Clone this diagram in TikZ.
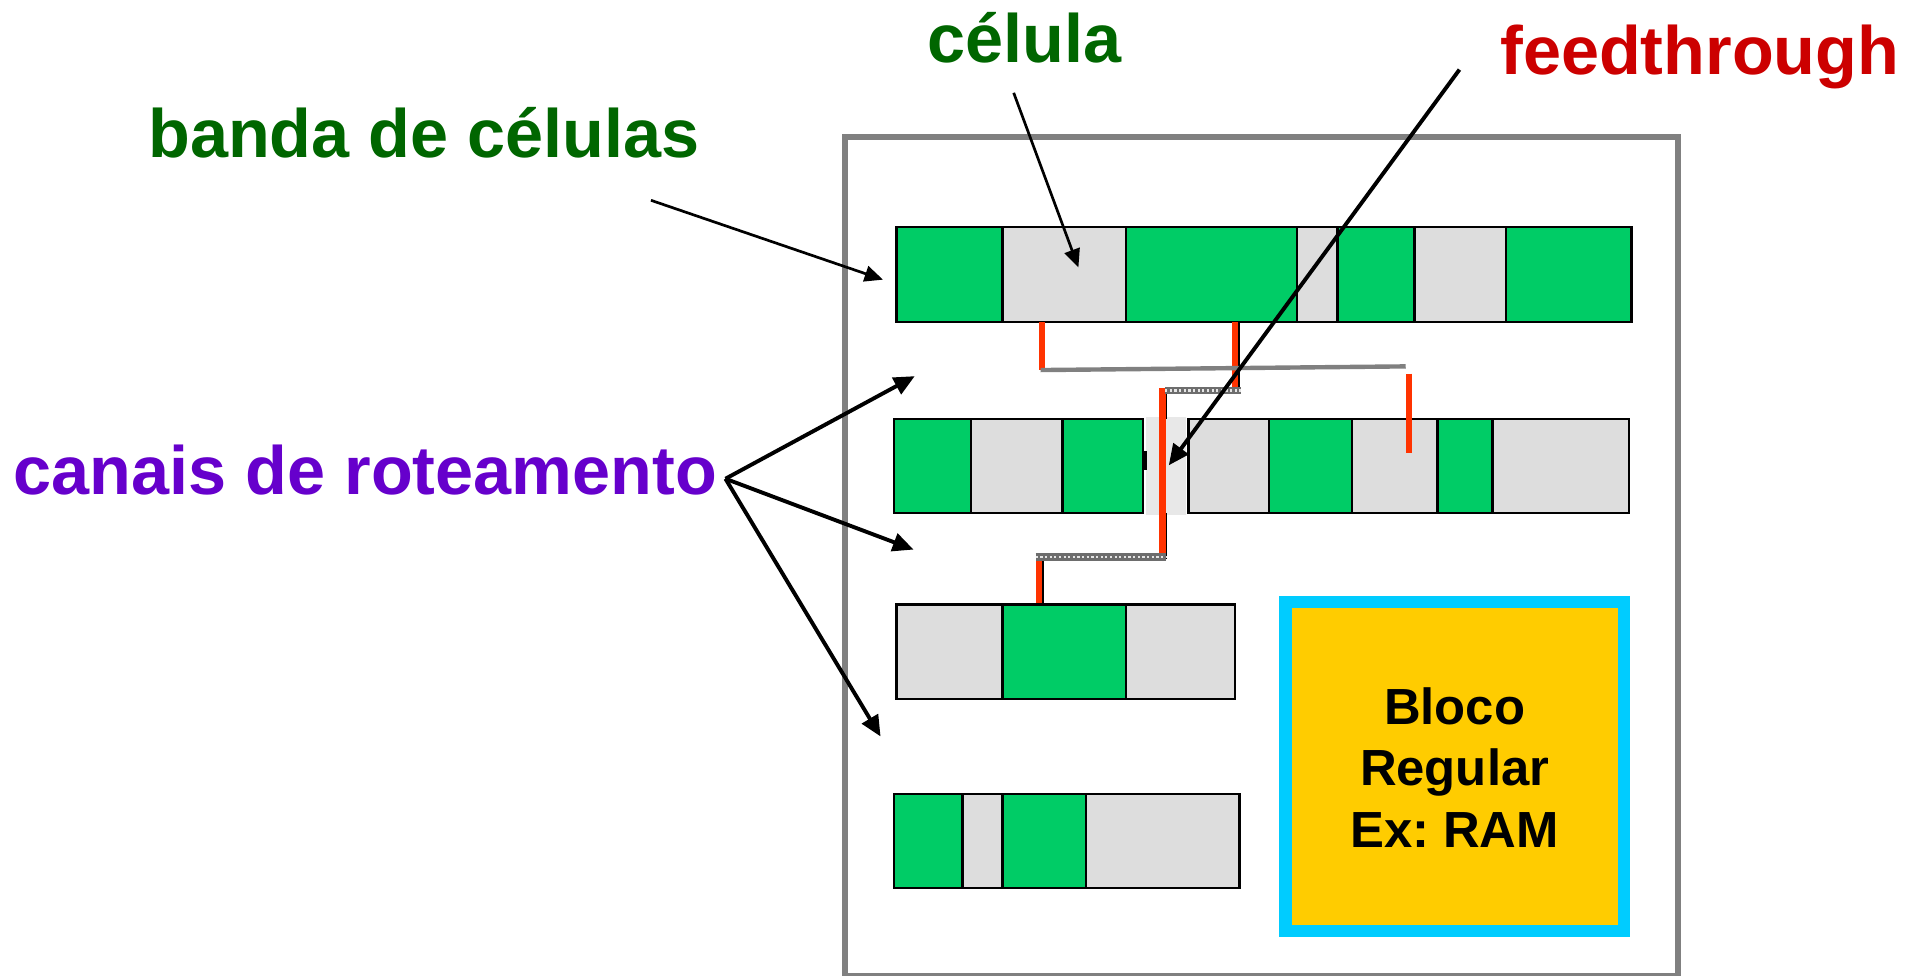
\documentclass[tikz,border=0pt]{standalone}
\usepackage{fontspec}
\setmainfont{Liberation Sans}
\usetikzlibrary{arrows.meta,patterns}
\definecolor{cellgreen}{HTML}{00CC66}
\definecolor{cellgrey}{HTML}{DDDDDD}
\definecolor{gapgrey}{HTML}{E8E8E8}
\definecolor{wirered}{HTML}{FF3300}
\definecolor{framegrey}{HTML}{808080}
\definecolor{txtgreen}{HTML}{006600}
\definecolor{txtred}{HTML}{CC0000}
\definecolor{txtpurple}{HTML}{6600CC}
\definecolor{ramcyan}{HTML}{00CCFF}
\definecolor{ramyellow}{HTML}{FFCC00}
\tikzset{
  cellbox/.style={draw=black,line width=1pt,inner sep=0pt,outer sep=0pt},
  gc/.style={cellbox,fill=cellgreen},
  gr/.style={cellbox,fill=cellgrey},
  lbl/.style={font=\fontsize{28}{30}\selectfont\bfseries,anchor=base west,inner sep=0pt},
  ramlbl/.style={font=\fontsize{20.8}{25}\selectfont\bfseries,inner sep=0pt,anchor=base},
  thinarrow/.style={-{Triangle[length=7.5pt,width=6.5pt]},line width=1.1pt,black},
  thickarrow/.style={-{Triangle[length=8.5pt,width=7.5pt]},line width=1.6pt,black},
  wire/.style={line width=2.4pt,wirered},
  widewire/.style={line width=2.7pt,wirered},
  blk/.style={line width=1.2pt,black},
  metal/.style={line width=1.8pt,framegrey},
  hatch/.style={line width=3pt,framegrey!85!black},
  hatchdots/.style={line width=1.1pt,white!80!framegrey,dash pattern=on 0.9pt off 1pt}
}
\newcommand{\cellat}[6]{% name style x1 x2 y1 y2
  \pgfmathsetmacro{\cx}{(#3+#4)/2}\pgfmathsetmacro{\cy}{(#5+#6)/2}
  \pgfmathsetmacro{\cw}{(#4-#3)*0.5}\pgfmathsetmacro{\ch}{(#6-#5)*0.5}
  \node[#2,minimum width=\cw pt,minimum height=\ch pt] (#1) at (\cx,\cy) {};}
\begin{document}
\begin{tikzpicture}[x=0.5pt,y=-0.5pt]
\useasboundingbox (0,0) rectangle (1568,799.15);
\begin{scope}
\clip (0,0) rectangle (1568,799.15);
\node[draw=framegrey,line width=2.4pt,minimum width=341pt,minimum height=343.5pt,inner sep=0pt,outer sep=0pt] (frame) at (1033,455.5) {};
\end{scope}
% band 1
\cellat{a1}{gc}{734}{821}{186}{263.5}
\cellat{a2}{gr}{821}{922}{186}{263.5}
\cellat{a3}{gc}{922}{1062}{186}{263.5}
\cellat{a4}{gr}{1062}{1095}{186}{263.5}
\cellat{a5}{gc}{1095}{1158}{186}{263.5}
\cellat{a6}{gr}{1158}{1233}{186}{263.5}
\cellat{a7}{gc}{1233}{1336}{186}{263.5}
% band 2
\node[fill=gapgrey,minimum width=16.5pt,minimum height=40pt,inner sep=0pt] (gap) at (954.5,381.5) {};
\cellat{b1}{gc}{732}{795}{343}{420}
\cellat{b2}{gr}{795}{870}{343}{420}
\cellat{b3}{gc}{870}{936}{343}{420}
\cellat{b4}{gr}{973}{1039}{343}{420}
\cellat{b5}{gc}{1039}{1107}{343}{420}
\cellat{b6}{gr}{1107}{1177}{343}{420}
\cellat{b7}{gc}{1177}{1222}{343}{420}
\cellat{b8}{gr}{1222}{1334}{343}{420}
\node[fill=black,minimum width=1.4pt,minimum height=8pt,inner sep=0pt] (tick) at (937.5,377) {};
% band 3
\cellat{c1}{gr}{734}{821}{495}{572.5}
\cellat{c2}{gc}{821}{922}{495}{572.5}
\cellat{c3}{gr}{922}{1011}{495}{572.5}
% band 4
\cellat{d1}{gc}{732}{788}{650}{727}
\cellat{d2}{gr}{788}{821}{650}{727}
\cellat{d3}{gc}{821}{889}{650}{727}
\cellat{d4}{gr}{889}{1015}{650}{727}
% RAM
\node[draw=ramcyan,fill=ramyellow,line width=5pt,minimum width=138.5pt,minimum height=134.5pt,inner sep=0pt,outer sep=0pt] (ram) at (1191,627.5) {};
\node[ramlbl] (r1) at (1191,593) {Bloco};
\node[ramlbl] (r2) at (1191,643) {Regular};
\node[ramlbl] (r3) at (1191,694) {Ex:\hspace{0.27em}RAM};
% wires
\coordinate (w1t) at (853,264);\coordinate (w1b) at (853,303);
\coordinate (w2t) at (1011,264);\coordinate (w2b) at (1011,318);
\coordinate (k2t) at (1014,264);\coordinate (k2b) at (1014,320);
\coordinate (w3t) at (1154,306);\coordinate (w3b) at (1154,371);
\coordinate (w4t) at (952,318);\coordinate (w4b) at (952,455);
\coordinate (k4a) at (954.5,322);\coordinate (k4c) at (954.5,343);
\coordinate (k4t) at (954.5,420);\coordinate (k4b) at (954.5,458);
\coordinate (w5t) at (851,459);\coordinate (w5b) at (851,494);
\coordinate (k5t) at (854,458);\coordinate (k5b) at (854,494);
\coordinate (m1) at (852,303);\coordinate (m2) at (1151,300);
\coordinate (h1a) at (954,320);\coordinate (h1b) at (1016,320);
\coordinate (h2a) at (848,456);\coordinate (h2b) at (955,456);
\draw[blk] (k2t) -- (k2b);
\draw[blk] (k4a) -- (k4c);
\draw[blk] (k4t) -- (k4b);
\draw[blk] (k5t) -- (k5b);
\draw[wire] (w1t) -- (w1b);
\draw[wire] (w2t) -- (w2b);
\draw[wire] (w3t) -- (w3b);
\draw[widewire] (w4t) -- (w4b);
\draw[wire] (w5t) -- (w5b);
\draw[metal] (m1) -- (m2);
\draw[hatch] (h1a) -- (h1b);
\draw[hatchdots] (h1a) -- (h1b);
\draw[hatch] (h2a) -- (h2b);
\draw[hatchdots] (h2a) -- (h2b);
% labels
\node[lbl,text=txtgreen] (tcel) at (759,51) {célula};
\node[lbl,text=txtred] (tfeed) at (1228,61) {feedthrough};
\node[lbl,text=txtgreen] (tband) at (121,129) {banda de células};
\node[lbl,text=txtpurple] (tcan) at (11,405) {canais de roteamento};
% arrows
\coordinate (s1) at (533,164);\coordinate (e1) at (723,229);
\coordinate (s2) at (830,76);\coordinate (e2) at (883,219);
\coordinate (s3) at (1195,57);\coordinate (e3) at (957,381);
\coordinate (s4) at (594,392);
\coordinate (e4a) at (749,308);\coordinate (e4b) at (748,450);\coordinate (e4c) at (721,603);
\draw[thinarrow] (s1) -- (e1);
\draw[thinarrow] (s2) -- (e2);
\draw[thickarrow] (s3) -- (e3);
\draw[thickarrow] (s4) -- (e4a);
\draw[thickarrow] (s4) -- (e4b);
\draw[thickarrow] (s4) -- (e4c);
\end{tikzpicture}
\end{document}
